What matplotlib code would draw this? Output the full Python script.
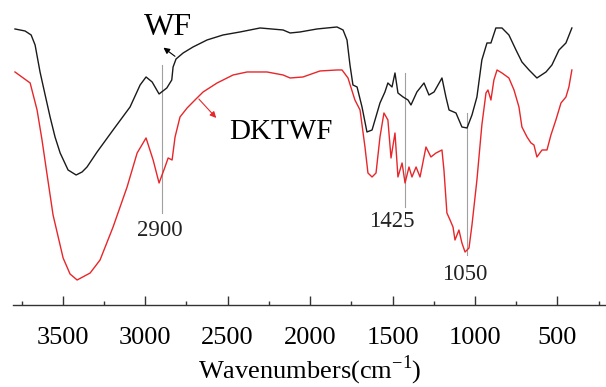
import numpy as np
import matplotlib
matplotlib.use("Agg")
import matplotlib.pyplot as plt

plt.rcParams['font.family'] = ['Liberation Serif', 'DejaVu Serif']
plt.rcParams['mathtext.fontset'] = 'custom'
plt.rcParams['mathtext.rm'] = 'Liberation Serif'

# FTIR spectra (transmittance, arbitrary units, curves offset)
wn_wf = [3790, 3729, 3692, 3668, 3638, 3607, 3577, 3547, 3516, 3468, 3419, 3383,
         3353, 3292, 3195, 3092, 3031, 2995, 2958, 2916, 2869, 2839, 2831, 2813,
         2770, 2710, 2625, 2528, 2425, 2303, 2164, 2121, 2061, 1958, 1837, 1800,
         1776, 1758, 1740, 1715, 1685, 1655, 1624, 1576, 1546, 1528, 1503, 1485,
         1467, 1436, 1406, 1388, 1352, 1309, 1279, 1248, 1200, 1176, 1157, 1115,
         1079, 1048, 1018, 988, 958, 927, 903, 873, 836, 794, 751, 715, 672, 624,
         569, 533, 490, 448, 412]
t_wf = [271, 269, 265, 255, 228, 205, 183, 163, 147, 130, 125, 128,
        133, 148, 170, 193, 215, 223, 218, 206, 212, 220, 233, 241,
        247, 253, 260, 265, 268, 272, 270, 267, 268, 271, 273, 270,
        260, 235, 215, 213, 193, 168, 170, 197, 208, 217, 213, 227,
        207, 203, 200, 195, 208, 217, 205, 208, 222, 203, 190, 187,
        173, 172, 185, 203, 240, 257, 257, 272, 272, 265, 250, 238, 230, 222,
        228, 235, 250, 257, 272]

wn_dk = [3790, 3698, 3656, 3626, 3595, 3559, 3498, 3456, 3413, 3334, 3274, 3195,
         3110, 3049, 2995, 2952, 2916, 2880, 2861, 2837, 2819, 2789, 2746, 2698,
         2649, 2564, 2467, 2382, 2261, 2164, 2121, 2043, 1940, 1837, 1806, 1770,
         1728, 1697, 1667, 1649, 1624, 1600, 1576, 1552, 1528, 1509, 1485, 1467,
         1442, 1424, 1400, 1382, 1357, 1333, 1297, 1267, 1236, 1200, 1188, 1170,
         1151, 1133, 1121, 1097, 1079, 1060, 1036, 1018, 988, 958, 933, 921, 903,
         885, 866, 836, 794, 763, 733, 715, 684, 660, 642, 624, 593, 563, 539,
         509, 478, 448, 430, 412]
t_dk = [228, 217, 190, 160, 125, 85, 42, 26, 20, 27, 40, 73,
        113, 147, 162, 140, 117, 133, 142, 140, 163, 183, 192, 200,
        208, 217, 225, 228, 228, 225, 222, 223, 229, 230, 230, 222,
        200, 190, 153, 127, 123, 127, 163, 187, 180, 142, 167, 123,
        137, 117, 133, 123, 133, 123, 153, 143, 147, 150, 130, 87,
        80, 73, 60, 70, 57, 48, 52, 75, 120, 175, 207, 210, 200,
        220, 230, 227, 222, 210, 193, 173, 163, 157, 155, 143, 150, 150, 165,
        180, 197, 203, 213, 230]

# marked bands: position, line top, line bottom, label x, label y
bands = [2900, 1425, 1050]
band_top = [235, 227, 187]
band_bottom = [87, 93, 45]
band_label_x = [2910, 1505, 1063]
band_label_y = [69, 78, 25]

fig = plt.figure(figsize=(6.06, 3.87), dpi=100)
ax = fig.add_axes([0.022, 0.2119, 0.978, 0.76])

ax.plot(wn_wf, t_wf, color='#1a1a1a', lw=1.0)
ax.plot(wn_dk, t_dk, color='#e8262a', lw=1.0)

for b, top, bot, lx, ly in zip(bands, band_top, band_bottom, band_label_x, band_label_y):
    ax.plot([b, b], [bot, top], color='#a0a0a0', lw=0.8, zorder=0)
    ax.text(lx, ly, str(b), ha='center', va='center', fontsize=16.5, color='#222222')

ax.text(2864, 272, 'WF', ha='center', va='center', fontsize=23)
ax.text(2179, 168, 'DKTWF', ha='center', va='center', fontsize=21)

ax.annotate('', xy=(2903, 254), xytext=(2806, 242),
            arrowprops=dict(arrowstyle='-|>', color='black', lw=0.8, mutation_scale=9))
ax.annotate('', xy=(2558, 180), xytext=(2686, 203),
            arrowprops=dict(arrowstyle='-|>', color='#e8262a', lw=0.8, mutation_scale=9))

ax.set_xlim(3800, 205)
ax.set_ylim(-5, 289.1)
ax.set_xticks([3500, 3000, 2500, 2000, 1500, 1000, 500])
ax.set_xticks(np.arange(3750, 200, -500), minor=True)
ax.tick_params(axis='x', which='major', direction='in', length=6.7, width=1,
               labelsize=19, pad=16, color='#333333')
ax.tick_params(axis='x', which='minor', direction='in', length=3.1, width=1, color='#333333')
ax.set_yticks([])
for side in ['left', 'right', 'top']:
    ax.spines[side].set_visible(False)
ax.spines['bottom'].set_color('#333333')
ax.spines['bottom'].set_linewidth(1)

fig.text(310 / 606, 1 - 370 / 387, r'Wavenumbers(cm$^{\mathregular{-1}}$)',
         ha='center', va='center', fontsize=19)

fig.savefig('out.png', dpi=100)
